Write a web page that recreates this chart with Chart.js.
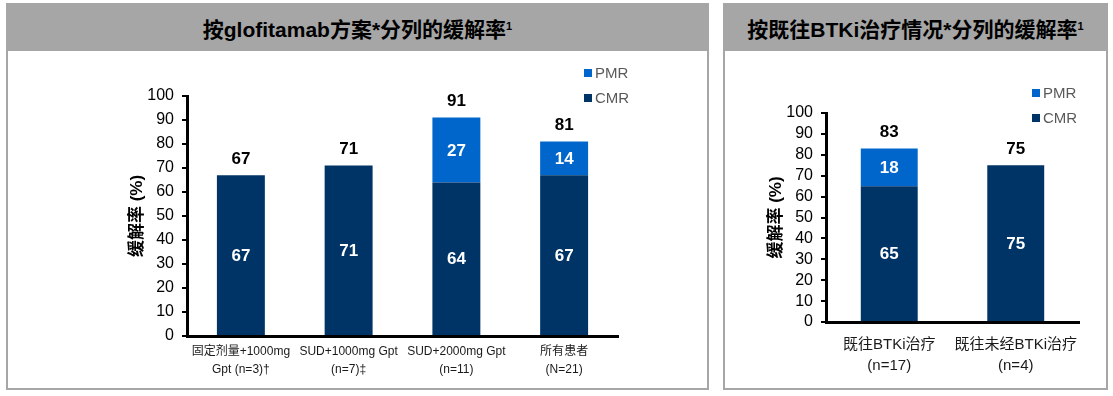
<!DOCTYPE html>
<html>
<head>
<meta charset="utf-8">
<script src="https://cdn.jsdelivr.net/npm/chart.js@4.4.0/dist/chart.umd.min.js"></script>
<style>
  body { margin: 0; background: #fff; font-family: "Liberation Sans", Arial, "Noto Sans CJK SC", sans-serif; }
  .panel { position: absolute; top: 3px; height: 387px; border: 2px solid #a6a6a6; box-sizing: border-box; background: #fff; }
  .head { height: 46px; background: #a6a6a6; display: flex; align-items: center; justify-content: center;
          font-weight: bold; font-size: 21px; color: #000; }
  .head sup { font-size: 11px; position: relative; top: -2px; }
  canvas { display: block; }
</style>
</head>
<body>
<div class="panel" style="left:6px; width:703px;">
  <div class="head">按glofitamab方案*分列的缓解率<sup>1</sup></div>
  <canvas id="chartA" width="699" height="337"></canvas>
</div>
<div class="panel" style="left:723px; width:385px;">
  <div class="head">按既往BTKi治疗情况*分列的缓解率<sup>1</sup></div>
  <canvas id="chartB" width="381" height="337"></canvas>
</div>
<script>
// données - graphique de gauche
const regimenLabels = [['固定剂量+1000mg', 'Gpt (n=3)†'], ['SUD+1000mg Gpt', '(n=7)‡'], ['SUD+2000mg Gpt', '(n=11)'], ['所有患者', '(N=21)']];
const regimenCMR = [67, 71, 64, 67];
const regimenPMR = [0, 0, 27, 14];

// données - graphique de droite
const btkLabels = [['既往BTKi治疗', '(n=17)'], ['既往未经BTKi治疗', '(n=4)']];
const btkCMR = [65, 75];
const btkPMR = [18, 0];

const yTicks = [0, 10, 20, 30, 40, 50, 60, 70, 80, 90, 100];
const yTitle = '缓解率 (%)';

const FONT = '"Liberation Sans", Arial, "Noto Sans CJK SC", sans-serif';
const CMR_COLOR = '#003366';
const PMR_COLOR = '#0066cc';

// étiquettes des valeurs + totaux + légende
const barLabels = {
    id: 'barLabels',
    afterDatasetsDraw(chart, args, opts) {
        const ctx = chart.ctx;
        const y = chart.scales.y;
        ctx.save();
        ctx.textAlign = 'center';
        ctx.textBaseline = 'middle';
        ctx.font = 'bold 17px ' + FONT;
        ctx.fillStyle = '#fff';
        chart.data.datasets.forEach((ds, i) => {
            chart.getDatasetMeta(i).data.forEach((bar, j) => {
                if (!ds.data[j]) return;
                ctx.fillText(ds.data[j], bar.x, (bar.y + bar.base) / 2 + 1);
            });
        });
        ctx.fillStyle = '#000';
        chart.data.labels.forEach((l, j) => {
            const total = chart.data.datasets.reduce((s, ds) => s + ds.data[j], 0);
            const x = chart.getDatasetMeta(0).data[j].x;
            ctx.fillText(total, x, y.getPixelForValue(total) - 16);
        });
        // légende
        ctx.font = '15px ' + FONT;
        ctx.textAlign = 'left';
        const items = chart.data.datasets.slice().reverse();
        items.forEach((ds, k) => {
            const cy = opts.y + k * 25;
            ctx.fillStyle = ds.backgroundColor;
            ctx.fillRect(opts.x, cy - 4, 8, 8);
            ctx.fillStyle = '#595959';
            ctx.fillText(ds.label, opts.x + 11, cy + 1);
        });
        ctx.restore();
    }
};

function makeChart(id, labels, cmr, pmr, cfg) {
    return new Chart(document.getElementById(id), {
        type: 'bar',
        data: {
            labels: labels,
            datasets: [
                { label: 'CMR', data: cmr, backgroundColor: CMR_COLOR },
                { label: 'PMR', data: pmr, backgroundColor: PMR_COLOR }
            ]
        },
        options: {
            responsive: false,
            animation: false,
            layout: { padding: { left: 0, right: cfg.padRight, top: cfg.padTop, bottom: 0 } },
            datasets: { bar: { categoryPercentage: 1, barPercentage: cfg.barPct } },
            plugins: {
                legend: { display: false },
                tooltip: { enabled: false },
                barLabels: cfg.legend
            },
            scales: {
                x: {
                    stacked: true,
                    grid: { display: false, drawTicks: false },
                    border: { color: '#000', width: 3 },
                    ticks: {
                        color: '#1a1a1a',
                        padding: cfg.xPad,
                        maxRotation: 0,
                        autoSkip: false,
                        font: { family: FONT, size: cfg.xFont, lineHeight: cfg.xLine }
                    },
                    afterFit: s => { s.height = cfg.xHeight; }
                },
                y: {
                    stacked: true,
                    min: yTicks[0],
                    max: yTicks[yTicks.length - 1],
                    afterBuildTicks: s => { s.ticks = yTicks.map(v => ({ value: v })); },
                    grid: { drawOnChartArea: false, color: '#000', lineWidth: 2, tickLength: 5 },
                    border: { color: '#000', width: 3 },
                    ticks: { color: '#000', padding: 8, autoSkip: false, font: { family: FONT, size: cfg.yFont } },
                    title: {
                        display: true,
                        text: yTitle,
                        color: '#000',
                        padding: { top: cfg.titlePad, bottom: 0 },
                        font: { family: FONT, size: 17, weight: 'bold' }
                    },
                    afterFit: s => { s.width = cfg.yWidth; }
                }
            }
        },
        plugins: [barLabels]
    });
}

makeChart('chartA', regimenLabels, regimenCMR, regimenPMR, {
    padRight: 89, padTop: 45, barPct: 0.445,
    xPad: 7, xFont: 12, xLine: 1.5, xHeight: 52,
    yFont: 16, yWidth: 179, titlePad: 119,
    legend: { x: 576, y: 22 }
});

makeChart('chartB', btkLabels, btkCMR, btkPMR, {
    padRight: 27, padTop: 62, barPct: 0.45,
    xPad: 12, xFont: 15, xLine: 1.4, xHeight: 66,
    yFont: 16, yWidth: 101, titlePad: 41,
    legend: { x: 307, y: 42 }
});
</script>
</body>
</html>
